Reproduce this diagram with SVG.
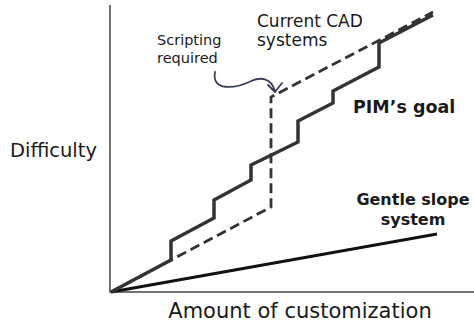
<svg xmlns="http://www.w3.org/2000/svg" width="474" height="328" viewBox="0 0 474 328">
<style>
text{font-family:"DejaVu Sans","Liberation Sans",sans-serif;fill:#1a1a1a}
.b{font-weight:bold}
.axis{stroke:#444;stroke-width:1.5;fill:none}
.pim{stroke:#333;stroke-width:3.5;fill:none;stroke-linejoin:miter}
.cad{stroke:#333;stroke-width:2.8;fill:none;stroke-dasharray:10,5}
.gentle{stroke:#111;stroke-width:3;fill:none}
.callout{stroke:#3a3f55;stroke-width:1.8;fill:none;stroke-linecap:round;stroke-linejoin:round}
</style>
<rect width="474" height="328" fill="#fff"/>
<g id="axes">
<path class="axis" d="M110,5 V292 H474"/>
</g>
<g id="connectors">
<path id="gentle-line" class="gentle" d="M111,292 L437,234"/>
<path id="cad-line" class="cad" d="M111,292 L271,207 L271,97 L433,12"/>
<path id="pim-line" class="pim" d="M111,292 L171,260 L171,241 L214,218 L214,200 L251,180 L251,165 L298,142 L298,121 L333,103 L333,91 L379,67 L379,43 L433,15"/>
<path id="callout-arrow" class="callout" d="M215,72 C211,92 236,88 249,82 C261,76 271,78 275,91 M268,85 L275,92 L282,83"/>
</g>
<g id="label-difficulty"><text x="10" y="157" font-size="19.5">Difficulty</text></g>
<g id="label-amount"><text x="300" y="318" font-size="21" text-anchor="middle">Amount of customization</text></g>
<g id="label-cad"><text x="257" y="27" font-size="17">Current CAD</text><text x="257" y="46" font-size="17">systems</text></g>
<g id="label-scripting"><text x="157" y="45" font-size="14.5">Scripting</text><text x="157" y="63" font-size="14.5">required</text></g>
<g id="label-pim"><text class="b" x="353" y="113" font-size="17.5">PIM’s goal</text></g>
<g id="label-gentle"><text class="b" x="413" y="205" font-size="16" text-anchor="middle">Gentle slope</text><text class="b" x="413" y="225" font-size="16" text-anchor="middle">system</text></g>
</svg>
